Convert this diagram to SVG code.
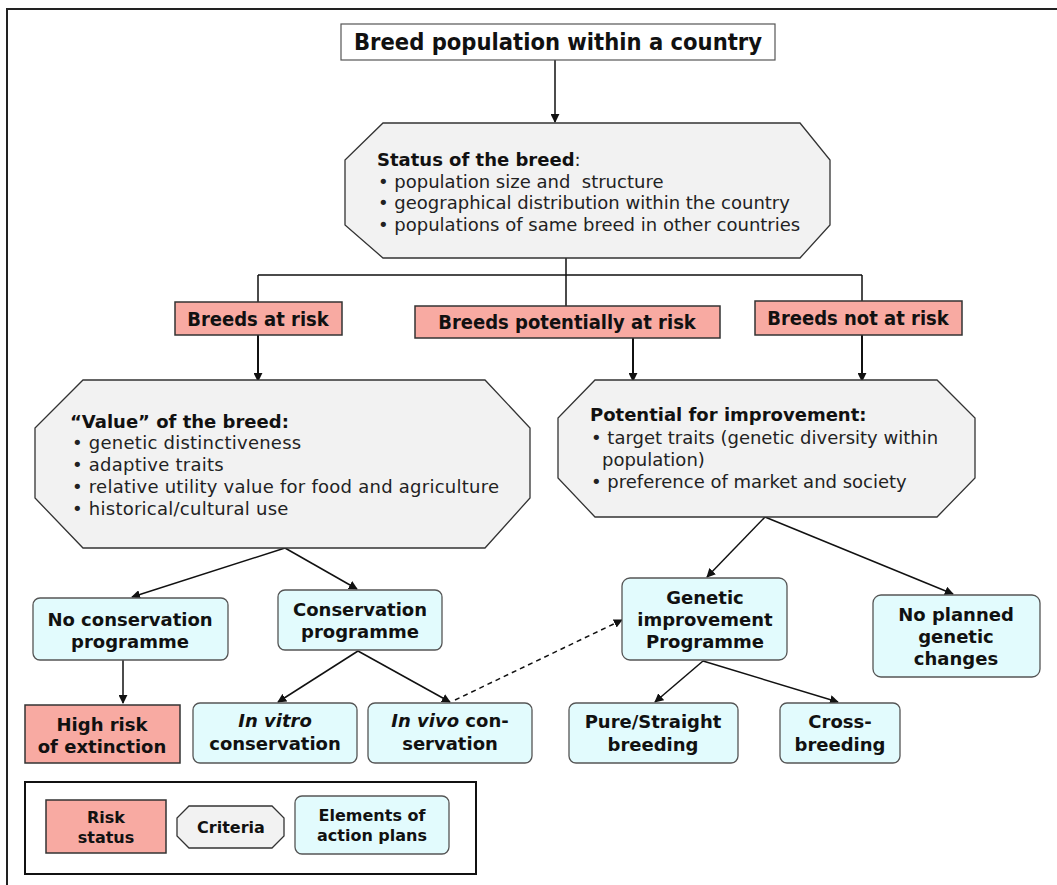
<svg xmlns="http://www.w3.org/2000/svg" width="1057" height="885" viewBox="0 0 1057 885">
<style>
.cond{font-family:"DejaVu Sans Condensed","DejaVu Sans","Liberation Sans",sans-serif;font-stretch:condensed;font-weight:bold;fill:#111}
.v{font-family:"DejaVu Sans","Liberation Sans",sans-serif;fill:#222;font-size:18px}
.vb{font-family:"DejaVu Sans","Liberation Sans",sans-serif;font-weight:bold;fill:#111}
.box{font-size:18px}
.leg{font-size:16px}
.risk{fill:#f8aaa2;stroke:#333;stroke-width:1.5}
.crit{fill:#f2f2f2;stroke:#333;stroke-width:1.3}
.act{fill:#e2fbfd;stroke:#555;stroke-width:1.3}
.ln{fill:none;stroke:#111;stroke-width:1.5}
.ln2{fill:none;stroke:#111;stroke-width:2}
</style>
<defs>
<marker id="ah" viewBox="0 0 10 10" refX="9" refY="5" markerWidth="9" markerHeight="9" markerUnits="userSpaceOnUse" orient="auto">
<path d="M0,0 L10,5 L0,10 z" fill="#111"/>
</marker>
</defs>
<rect width="1057" height="885" fill="#fff"/>
<path d="M7,885 V9 H1057" fill="none" stroke="#222" stroke-width="2"/>

<g id="connectors">
<line class="ln" x1="555" y1="60" x2="555" y2="122" marker-end="url(#ah)"/>
<path class="ln" d="M566,258 V275 M258,275 H862 M258,275 V302 M566,275 V306 M862,275 V301"/>
<line class="ln2" x1="258" y1="335" x2="258" y2="381" marker-end="url(#ah)"/>
<line class="ln2" x1="633" y1="338" x2="633" y2="381" marker-end="url(#ah)"/>
<line class="ln2" x1="862" y1="335" x2="862" y2="381" marker-end="url(#ah)"/>
<line class="ln" x1="285" y1="548" x2="132" y2="597" marker-end="url(#ah)"/>
<line class="ln" x1="285" y1="548" x2="357" y2="589" marker-end="url(#ah)"/>
<line class="ln" x1="123" y1="660" x2="123" y2="703" marker-end="url(#ah)"/>
<line class="ln" x1="358" y1="651" x2="278" y2="702" marker-end="url(#ah)"/>
<line class="ln" x1="358" y1="651" x2="450" y2="702" marker-end="url(#ah)"/>
<line class="ln" x1="455" y1="700" x2="622" y2="620" stroke-dasharray="5,4" marker-end="url(#ah)"/>
<line class="ln" x1="765" y1="517" x2="707" y2="577" marker-end="url(#ah)"/>
<line class="ln" x1="765" y1="517" x2="953" y2="594" marker-end="url(#ah)"/>
<line class="ln" x1="703" y1="661" x2="655" y2="702" marker-end="url(#ah)"/>
<line class="ln" x1="703" y1="661" x2="838" y2="702" marker-end="url(#ah)"/>
</g>

<g id="top">
<rect x="341" y="24" width="434" height="36" fill="#fff" stroke="#555" stroke-width="1.2"/>
<text class="cond" x="558" y="50" font-size="23.5" text-anchor="middle">Breed population within a country</text>
</g>

<g id="status">
<polygon class="crit" points="383,123 800,123 830,160 830,225 800,258 383,258 345,225 345,160"/>
<text class="v" x="377" y="166"><tspan class="vb">Status of the breed</tspan>:</text>
<text class="v" x="378" y="188" xml:space="preserve">• population size and  structure</text>
<text class="v" x="378" y="209">• geographical distribution within the country</text>
<text class="v" x="378" y="231">• populations of same breed in other countries</text>
</g>

<g id="atrisk">
<rect class="risk" x="175" y="302" width="167" height="33"/>
<text class="cond" x="258" y="326" font-size="20" text-anchor="middle">Breeds at risk</text>
</g>
<g id="potrisk">
<rect class="risk" x="415" y="306" width="305" height="32"/>
<text class="cond" x="567" y="329" font-size="20" text-anchor="middle">Breeds potentially at risk</text>
</g>
<g id="notrisk">
<rect class="risk" x="755" y="301" width="207" height="34"/>
<text class="cond" x="858" y="325" font-size="20" text-anchor="middle">Breeds not at risk</text>
</g>

<g id="value">
<polygon class="crit" points="83,380 485,380 530,428 530,498 485,548 83,548 35,498 35,428"/>
<text class="vb" x="70" y="428" font-size="18">“Value” of the breed:</text>
<text class="v" x="72" y="449" letter-spacing="0.25">• genetic distinctiveness</text>
<text class="v" x="72" y="471" letter-spacing="0.25">• adaptive traits</text>
<text class="v" x="72" y="493" letter-spacing="0.25">• relative utility value for food and agriculture</text>
<text class="v" x="72" y="515" letter-spacing="0.25">• historical/cultural use</text>
</g>

<g id="potential">
<polygon class="crit" points="595,380 937,380 975,418 975,478 937,517 595,517 558,478 558,418"/>
<text class="vb" x="590" y="421" font-size="18">Potential for improvement:</text>
<text class="v" x="591" y="444">• target traits (genetic diversity within</text>
<text class="v" x="602" y="466">population)</text>
<text class="v" x="591" y="488">• preference of market and society</text>
</g>

<g id="noconservation">
<rect class="act" x="33" y="598" width="195" height="62" rx="7"/>
<text class="vb box" x="130" y="626" text-anchor="middle">No conservation</text>
<text class="vb box" x="130" y="648" text-anchor="middle">programme</text>
</g>
<g id="conservation">
<rect class="act" x="278" y="590" width="164" height="60" rx="7"/>
<text class="vb box" x="360" y="616" text-anchor="middle">Conservation</text>
<text class="vb box" x="360" y="638" text-anchor="middle">programme</text>
</g>
<g id="highrisk">
<rect class="risk" x="25" y="705" width="155" height="58"/>
<text class="vb box" x="102" y="731" text-anchor="middle">High risk</text>
<text class="vb box" x="102" y="753" text-anchor="middle">of extinction</text>
</g>
<g id="invitro">
<rect class="act" x="193" y="703" width="164" height="60" rx="7"/>
<text class="vb box" x="275" y="727" text-anchor="middle" font-style="italic">In vitro</text>
<text class="vb box" x="275" y="750" text-anchor="middle">conservation</text>
</g>
<g id="invivo">
<rect class="act" x="368" y="703" width="164" height="60" rx="7"/>
<text class="vb box" x="450" y="727" text-anchor="middle"><tspan font-style="italic">In vivo</tspan> con-</text>
<text class="vb box" x="450" y="750" text-anchor="middle">servation</text>
</g>
<g id="genetic">
<rect class="act" x="622" y="578" width="165" height="82" rx="8"/>
<text class="vb box" x="705" y="604" text-anchor="middle">Genetic</text>
<text class="vb box" x="705" y="626" text-anchor="middle">improvement</text>
<text class="vb box" x="705" y="648" text-anchor="middle">Programme</text>
</g>
<g id="noplanned">
<rect class="act" x="873" y="595" width="167" height="82" rx="8"/>
<text class="vb box" x="956" y="621" text-anchor="middle">No planned</text>
<text class="vb box" x="956" y="643" text-anchor="middle">genetic</text>
<text class="vb box" x="956" y="665" text-anchor="middle">changes</text>
</g>
<g id="pure">
<rect class="act" x="569" y="703" width="169" height="60" rx="7"/>
<text class="vb box" x="653" y="728" text-anchor="middle">Pure/Straight</text>
<text class="vb box" x="653" y="751" text-anchor="middle">breeding</text>
</g>
<g id="cross">
<rect class="act" x="780" y="703" width="120" height="60" rx="7"/>
<text class="vb box" x="840" y="728" text-anchor="middle">Cross-</text>
<text class="vb box" x="840" y="751" text-anchor="middle">breeding</text>
</g>

<g id="legend">
<rect x="25" y="782" width="451" height="92" fill="#fff" stroke="#111" stroke-width="2"/>
<g id="legend-risk">
<rect class="risk" x="46" y="800" width="120" height="53"/>
<text class="vb leg" x="106" y="823" text-anchor="middle">Risk</text>
<text class="vb leg" x="106" y="843" text-anchor="middle">status</text>
</g>
<g id="legend-criteria">
<polygon class="crit" points="189,806 272,806 284,818 284,836 272,848 189,848 177,836 177,818"/>
<text class="vb leg" x="231" y="833" text-anchor="middle">Criteria</text>
</g>
<g id="legend-action">
<rect class="act" x="295" y="796" width="154" height="58" rx="7"/>
<text class="vb leg" x="372" y="821" text-anchor="middle">Elements of</text>
<text class="vb leg" x="372" y="841" text-anchor="middle">action plans</text>
</g>
</g>
</svg>
